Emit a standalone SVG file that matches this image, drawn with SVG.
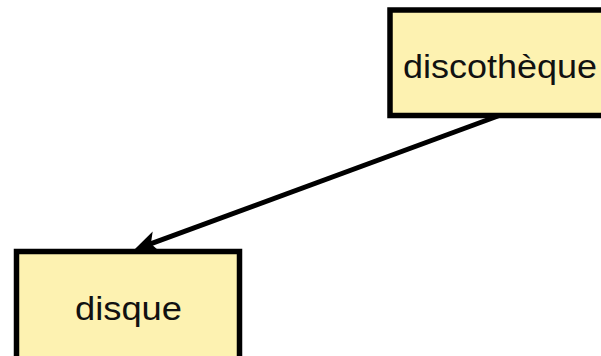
<svg xmlns="http://www.w3.org/2000/svg" width="601" height="356" viewBox="0 0 601 356">
<style>
.box{fill:#fdf2b1;stroke:#000;stroke-width:5.5}
.lbl{font-family:"Liberation Sans",Arial,sans-serif;font-size:33px;fill:#111;text-anchor:middle}
.edge{stroke:#000;stroke-width:5;fill:none}
</style>
<defs>
<marker id="arr" viewBox="0 0 24 22" refX="10" refY="11" markerWidth="24" markerHeight="22" markerUnits="userSpaceOnUse" orient="auto">
<path d="M0,0 L24,11 L0,22 L6,11 z" fill="#000"/>
</marker>
</defs>
<rect width="601" height="356" fill="#fff"/>
<g id="connectors">
<line class="edge" x1="498" y1="116" x2="147.1" y2="245.2" marker-end="url(#arr)"/>
</g>
<g id="node-discotheque">
<rect class="box" x="390" y="10" width="225" height="105.5"/>
<text class="lbl" x="500" y="78" textLength="194" lengthAdjust="spacingAndGlyphs">discothèque</text>
</g>
<g id="node-disque">
<rect class="box" x="16.5" y="251.5" width="223" height="110"/>
<text class="lbl" x="128.5" y="320" textLength="107" lengthAdjust="spacingAndGlyphs">disque</text>
</g>
</svg>
